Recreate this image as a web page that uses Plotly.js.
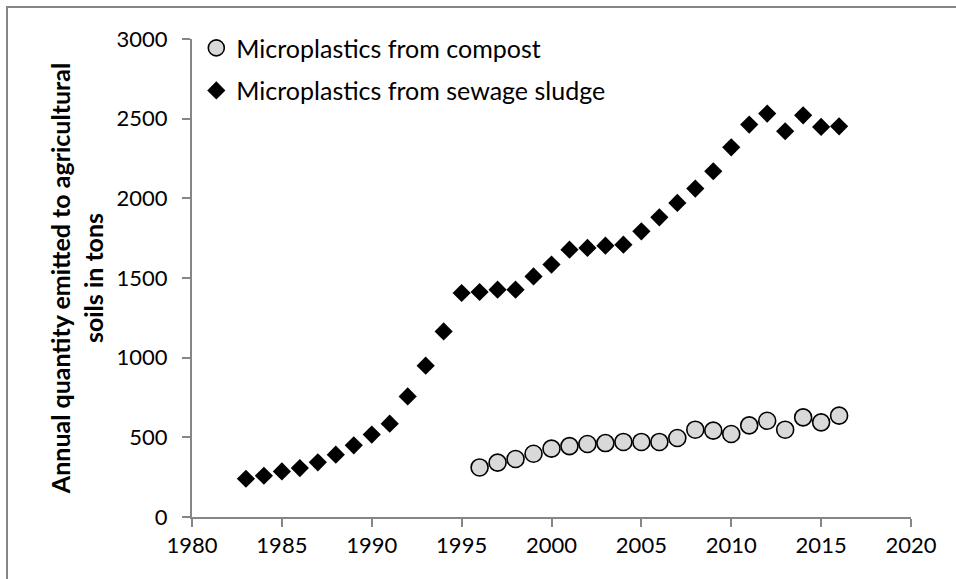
<!DOCTYPE html>
<html>
<head>
<meta charset="utf-8">
<script src="https://cdn.plot.ly/plotly-3.0.1.min.js"></script>
<style>html,body{margin:0;padding:0;background:#fff;}#chart{width:956px;height:579px;}</style>
</head>
<body>
<div id="chart"></div>
<script>
// Data
const compostYears = [1996,1997,1998,1999,2000,2001,2002,2003,2004,2005,2006,2007,2008,2009,2010,2011,2012,2013,2014,2015,2016];
const compostValues = [311,341,364,397,429,445,458,464,471,471,471,496,548,542,521,575,604,548,625,594,636];
const sludgeYears = [1983,1984,1985,1986,1987,1988,1989,1990,1991,1992,1993,1994,1995,1996,1997,1998,1999,2000,2001,2002,2003,2004,2005,2006,2007,2008,2009,2010,2011,2012,2013,2014,2015,2016];
const sludgeValues = [240,259,286,307,343,391,450,517,586,757,950,1165,1406,1412,1427,1427,1510,1584,1678,1689,1703,1709,1793,1881,1971,2061,2170,2320,2463,2532,2421,2521,2448,2452];
const xTicks = [1980,1985,1990,1995,2000,2005,2010,2015,2020];
const yTicks = [0,500,1000,1500,2000,2500,3000];
const seriesNames = ['Microplastics from compost','Microplastics from sewage sludge'];
const yTitle = 'Annual quantity emitted to agricultural<br>soils in tons';

const FONT = 'Lato, "Open Sans", sans-serif';
const AX = '#868686';

const traces = [
  {x: compostYears, y: compostValues, name: seriesNames[0], type: 'scatter', mode: 'markers',
   legendgroup: 'a',
   marker: {symbol: 'circle', size: 17, color: '#d9d9d9', line: {color: '#000', width: 1.6}}},
  {x: sludgeYears, y: sludgeValues, name: seriesNames[1], type: 'scatter', mode: 'markers',
   legendgroup: 'b',
   marker: {symbol: 'diamond', size: 14, color: '#000', line: {width: 0}}}
];

const layout = {
  width: 956, height: 579,
  margin: {l: 192, r: 45, t: 39, b: 62},
  paper_bgcolor: '#fff', plot_bgcolor: '#fff',
  font: {family: FONT, color: '#000', size: 22},
  showlegend: true,
  legend: {x: 0.006, y: 1.029, xanchor: 'left', yanchor: 'top', bgcolor: 'rgba(0,0,0,0)',
           font: {family: FONT, size: 25, color: '#000'}, tracegroupgap: 7, traceorder: 'grouped'},
  xaxis: {range: [1980, 2020], tickvals: xTicks, ticktext: xTicks.map(String),
          showgrid: false, zeroline: false, showline: true, linecolor: AX, linewidth: 2,
          ticks: 'outside', ticklen: 8, tickwidth: 2, tickcolor: AX,
          tickfont: {family: FONT, size: 22, color: '#000'}},
  yaxis: {range: [0, 3000], tickvals: yTicks, ticktext: yTicks.map(String),
          showgrid: false, zeroline: false, showline: true, linecolor: AX, linewidth: 2,
          ticks: 'outside', ticklen: 8, tickwidth: 2, tickcolor: AX, ticklabelstandoff: 10,
          tickfont: {family: FONT, size: 22, color: '#000'},
          title: {text: '<b>' + yTitle + '</b>', standoff: 6,
                  font: {family: FONT, size: 25, color: '#000'}}},
  shapes: [{type: 'rect', xref: 'paper', yref: 'paper', layer: 'below',
            x0: (7 - 192) / 719, x1: 2, y0: -1, y1: (517 - 7) / 478,
            line: {color: AX, width: 2}, fillcolor: 'rgba(0,0,0,0)'}]
};

Plotly.newPlot('chart', traces, layout, {displayModeBar: false, staticPlot: true});
</script>
</body>
</html>
